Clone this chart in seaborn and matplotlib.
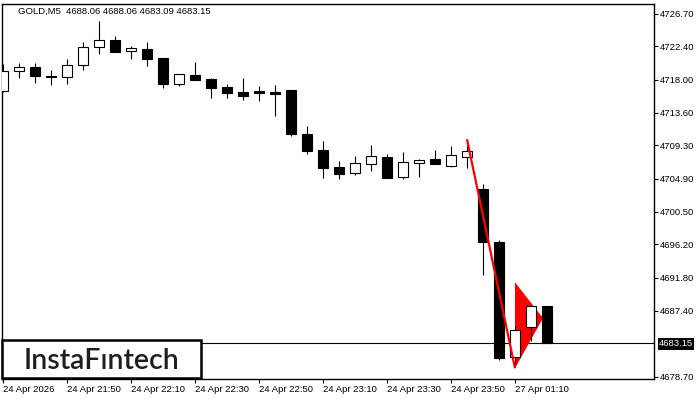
import matplotlib
matplotlib.use("Agg")
import matplotlib.pyplot as plt
import seaborn as sns
import pandas as pd
from matplotlib.patches import Polygon, Rectangle
import matplotlib.transforms as mtransforms

sns.set_theme(style="white")
plt.rcParams['font.family'] = ['Liberation Sans', 'DejaVu Sans']

# M5 candles
opens = [4716.55, 4719.20, 4719.65, 4718.50, 4718.32, 4719.91, 4722.29, 4723.22, 4721.76, 4722.07,
         4720.88, 4717.48, 4718.63, 4718.10, 4716.99, 4716.38, 4716.51, 4716.38, 4716.64, 4710.82,
         4708.70, 4706.41, 4705.62, 4706.81, 4707.77, 4705.09, 4706.94, 4707.47, 4706.54, 4707.73,
         4703.54, 4696.52, 4681.35, 4685.32, 4688.06]
highs = [4720.08, 4720.25, 4720.25, 4719.30, 4720.75, 4722.95, 4725.77, 4723.79, 4722.46, 4722.95,
         4720.90, 4718.75, 4720.30, 4718.23, 4717.44, 4718.23, 4717.17, 4717.30, 4716.64, 4711.88,
         4709.89, 4707.20, 4707.91, 4709.36, 4708.17, 4708.44, 4707.51, 4708.70, 4709.23, 4709.45,
         4704.20, 4696.79, 4685.40, 4688.10, 4688.06]
lows = [4716.40, 4718.27, 4717.60, 4717.30, 4717.44, 4719.33, 4721.37, 4721.70, 4720.70, 4719.86,
        4716.95, 4717.21, 4718.00, 4715.62, 4715.62, 4715.36, 4715.23, 4713.24, 4710.60, 4708.21,
        4705.03, 4704.90, 4705.35, 4705.96, 4705.00, 4704.90, 4705.17, 4706.80, 4706.41, 4706.36,
        4692.16, 4680.91, 4680.25, 4683.46, 4683.09]
closes = [4719.20, 4719.65, 4718.53, 4718.30, 4719.95, 4722.29, 4723.22, 4721.71, 4722.16, 4720.78,
          4717.44, 4718.72, 4718.00, 4716.95, 4716.28, 4715.89, 4716.28, 4716.15, 4710.86, 4708.61,
          4706.36, 4705.56, 4706.94, 4707.87, 4705.03, 4707.07, 4707.34, 4706.81, 4707.99, 4708.53,
          4696.57, 4681.17, 4684.88, 4688.06, 4683.15]

# time axis labels (every 4th bar)
time_labels = ["24 Apr 2026", "24 Apr 21:50", "24 Apr 22:10", "24 Apr 22:30", "24 Apr 22:50",
               "24 Apr 23:10", "24 Apr 23:30", "24 Apr 23:50", "27 Apr 01:10"]
time_label_bars = [0, 4, 8, 12, 16, 20, 24, 28, 32]

price_ticks = [4726.70, 4722.40, 4718.00, 4713.60, 4709.30, 4704.90, 4700.50, 4696.20,
               4691.80, 4687.40, 4678.70]
last_price = 4683.15

# bearish pennant: pole and flag
pole_x = [29, 32]
pole_y = [4710.12, 4679.81]
flag_x = [32, 32, 33.75]
flag_y = [4691.19, 4679.81, 4686.45]

df = pd.DataFrame({'open': opens, 'high': highs, 'low': lows, 'close': closes})
df['bar'] = range(len(df))
df['up'] = df['close'] >= df['open']

W, H = 700, 400
FS = 6.8
fig = plt.figure(figsize=(7, 4), dpi=100)
fig.patch.set_facecolor('white')
ax = fig.add_axes([2 / W, 21 / H, 652 / W, 375 / H])
ax.set_facecolor('white')

ax.axhline(last_price, color='black', lw=0.8, zorder=1)

ax.add_patch(Polygon(list(zip(flag_x, flag_y)), closed=True, fc='red', ec='none', zorder=2))

ax.vlines(df['bar'], df['low'], df['high'], color='black', lw=0.8, zorder=3)
body_bottom = df[['open', 'close']].min(axis=1)
body_h = (df['close'] - df['open']).abs()
ax.bar(df['bar'], body_h, bottom=body_bottom, width=0.62,
       color=['white' if u else 'black' for u in df['up']],
       edgecolor='black', linewidth=0.8, zorder=4)

ax.plot(pole_x, pole_y, color='red', lw=1.6, zorder=5, solid_capstyle='butt')

ax.set_xlim(-0.0625, 40.6875)
ax.set_ylim(4678.39, 4728.02)

ax.yaxis.tick_right()
ax.set_yticks(price_ticks)
ax.set_yticklabels([f'{v:.2f}' for v in price_ticks], fontsize=FS, color='black')
ax.set_xticks(time_label_bars)
ax.set_xticklabels(time_labels, fontsize=FS, color='black', ha='left')
offset = mtransforms.ScaledTranslation(-1 / 100, 0, fig.dpi_scale_trans)
for lab in ax.get_xticklabels():
    lab.set_transform(lab.get_transform() + offset)
ax.tick_params(axis='both', direction='out', length=3, width=0.8, color='black', pad=1.5)
ax.tick_params(axis='y', right=True, left=False)
ax.tick_params(axis='x', bottom=True)
for s in ax.spines.values():
    s.set_color('black')
    s.set_linewidth(1.0)

# header line
fig.text(18 / W, 1 - 11 / H, 'GOLD,M5  4688.06 4688.06 4683.09 4683.15',
         fontsize=FS, color='black', ha='left', va='center')

# last price marker
fig.add_artist(Rectangle((658 / W, 1 - 350 / H), 36 / W, 12 / H, transform=fig.transFigure,
                         fc='black', ec='none'))
fig.text(676 / W, 1 - 344 / H, f'{last_price:.2f}', fontsize=FS, color='white',
         ha='center', va='center')

# logo box
fig.add_artist(Rectangle((2 / W, 1 - 378 / H), 199 / W, 38 / H, transform=fig.transFigure,
                         fc='white', ec='black', lw=1.8, zorder=10))
fig.text(101.5 / W, 1 - 361 / H, 'InstaFıntech', fontsize=20.5, color='#1e1e1e',
         family='Lato', fontweight='semibold', ha='center', va='center', zorder=11)

fig.savefig('out.png', dpi=100)
